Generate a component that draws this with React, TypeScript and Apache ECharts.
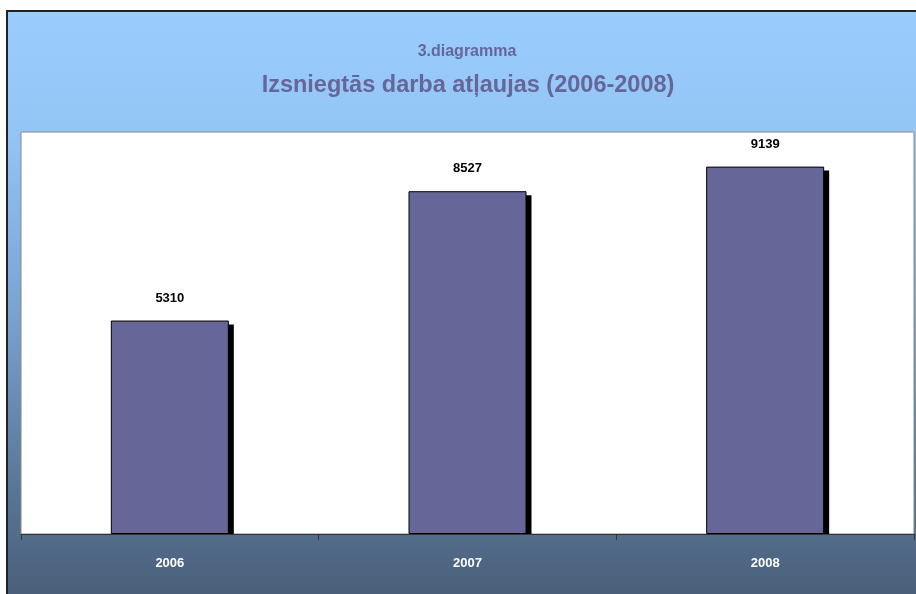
import React, { useEffect, useRef } from "react";
import * as echarts from "echarts";

const categories = ["2006", "2007", "2008"];
const values = [5310, 8527, 9139];
const subtitle = "3.diagramma";
const title = "Izsniegtās darba atļaujas (2006-2008)";

export default function App() {
  const ref = useRef<HTMLDivElement>(null);
  useEffect(() => {
    document.body.style.margin = "0";
    const chart = echarts.init(ref.current!, null, { renderer: "svg" });
    const BAR_W = 118;
    chart.setOption({
      animation: false,
      textStyle: { fontFamily: "Liberation Sans, Arial, sans-serif" },
      graphic: [
        {
          type: "rect",
          left: 6,
          top: 10,
          z: -10,
          shape: { x: 0, y: 0, width: 930, height: 600 },
          style: {
            fill: new echarts.graphic.LinearGradient(0, 0, 0, 1, [
              { offset: 0, color: "#9acdfe" },
              { offset: 0.2, color: "#93c5f5" },
              { offset: 0.5, color: "#7aa3d2" },
              { offset: 0.8, color: "#587596" },
              { offset: 1, color: "#485c75" },
            ]),
            stroke: "#222",
            lineWidth: 2,
          },
        },
        {
          type: "text",
          x: 467,
          y: 50,
          style: {
            text: subtitle,
            fill: "#666699",
            font: "bold 16px 'Liberation Sans', Arial, sans-serif",
            align: "center",
            verticalAlign: "middle",
          },
        },
        {
          type: "text",
          x: 468,
          y: 84,
          style: {
            text: title,
            fill: "#666699",
            font: "bold 23.5px 'Liberation Sans', Arial, sans-serif",
            align: "center",
            verticalAlign: "middle",
          },
        },
      ],
      grid: {
        show: true,
        left: 21,
        top: 132,
        width: 893,
        height: 402,
        backgroundColor: "#ffffff",
        borderColor: "#888888",
        borderWidth: 1,
      },
      xAxis: {
        type: "category",
        data: categories,
        axisLine: { lineStyle: { color: "#333333", width: 1 } },
        axisTick: { show: true, alignWithLabel: false, length: 6, lineStyle: { color: "#333333" } },
        axisLabel: {
          color: "#ffffff",
          fontWeight: "bold",
          fontSize: 13,
          margin: 22,
        },
      },
      yAxis: {
        type: "value",
        min: 0,
        max: 10000,
        show: false,
        splitLine: { show: false },
      },
      series: [
        {
          type: "custom",
          z: 1,
          data: values.map((v, i) => [i, v]),
          encode: { x: 0, y: 1 },
          renderItem: (params: any, api: any) => {
            const top = api.coord([api.value(0), api.value(1)]);
            const bottom = api.coord([api.value(0), 0]);
            return {
              type: "rect",
              shape: {
                x: top[0] - BAR_W / 2 + 5,
                y: top[1] + 4,
                width: BAR_W,
                height: bottom[1] - top[1] - 4,
              },
              style: { fill: "#000000" },
            };
          },
          silent: true,
        },
        {
          type: "bar",
          z: 2,
          data: values,
          barWidth: BAR_W,
          itemStyle: {
            color: "#666699",
            borderColor: "#000000",
            borderWidth: 1,
          },
          label: {
            show: true,
            position: "top",
            distance: 17,
            color: "#000000",
            fontWeight: "bold",
            fontSize: 13,
          },
        },
      ],
    });
    return () => chart.dispose();
  }, []);
  return <div ref={ref} style={{ position: "fixed", left: 0, top: 0, width: 916, height: 594 }} />;
}
